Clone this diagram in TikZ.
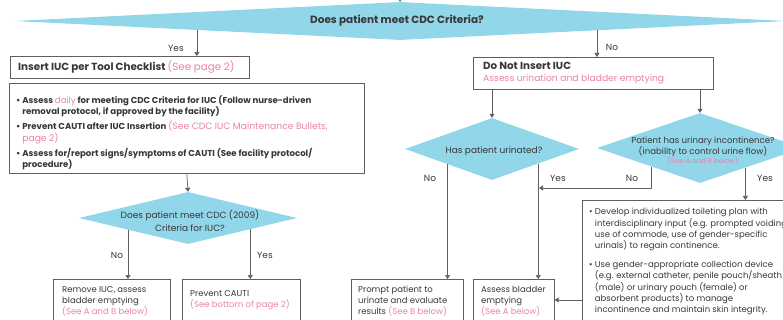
\documentclass[tikz,border=0pt]{standalone}
\usepackage{fontspec}
\setmainfont{Poppins}
\usetikzlibrary{arrows.meta,shapes.geometric}
\definecolor{cyanfill}{RGB}{146,214,234}
\definecolor{pinkc}{RGB}{234,128,172}
\definecolor{txtc}{RGB}{55,55,55}
\definecolor{linec}{RGB}{95,95,95}
\begin{document}
\begin{tikzpicture}[x=1pt,y=-1pt,
  box/.style={draw=linec, line width=0.7pt, rectangle, inner sep=0pt, anchor=north west},
  dia/.style={diamond, fill=cyanfill, draw=none, inner sep=0pt},
  arr/.style={draw=linec, line width=0.7pt, -{Triangle[width=5pt,length=4pt]}},
  lbl/.style={font=\fontsize{9}{10}\selectfont, text=txtc, inner sep=0pt},
  bt/.style={font=\bfseries\fontsize{8.6}{11.5}\selectfont, text=txtc, align=left, inner sep=0pt, anchor=north west},
  rt/.style={font=\fontsize{8.5}{11}\selectfont, text=txtc, align=left, inner sep=0pt, anchor=north west},
  ct/.style={font=\fontsize{9}{13}\selectfont, text=txtc, align=center, inner sep=0pt},
]
\useasboundingbox (0,0) rectangle (783,320);

% diamonds
\node[dia, minimum width=772pt, minimum height=38pt] (d1) at (400,21) {};
\node[font=\bfseries\fontsize{10.5}{12}\selectfont, text=txtc, inner sep=0pt] (d1t) at (397,21) {Does patient meet CDC Criteria?};

\node[dia, minimum width=218pt, minimum height=52pt] (d2) at (188,218) {};
\node[ct] (d2t) at (190,221) {Does patient meet CDC (2009)\\Criteria for IUC?};

\node[dia, minimum width=174pt, minimum height=62pt] (d3) at (492,149) {};
\node[ct] (d3t) at (494,151) {Has patient urinated?};

\node[dia, minimum width=206pt, minimum height=70pt] (d4) at (700,148) {};
\node[ct, font=\fontsize{8.6}{11}\selectfont] (d4t) at (703,151) {Patient has urinary incontinence?\\(inability to control urine flow)\\[-1.5pt]{\fontsize{7}{8}\selectfont\color{pinkc}(See A and B below)}};

% boxes
\node[box, minimum width=239pt, minimum height=22pt] (ins) at (10,56) {};
\node[font=\bfseries\fontsize{10.3}{12}\selectfont, text=txtc, inner sep=0pt, anchor=west] (inst) at ([xshift=8pt]ins.west) {Insert IUC per Tool Checklist {\mdseries\color{pinkc}(See page 2)}};

\node[box, minimum width=355pt, minimum height=90pt] (blt) at (9,83) {};
\node[bt] (bltt) at (16,95) {%
\textbullet\ Assess {\mdseries\color{pinkc}daily} for meeting CDC Criteria for IUC (Follow nurse-driven\\
\phantom{\textbullet\ }removal protocol, if approved by the facility)\\[3.5pt]
\textbullet\ Prevent CAUTI after IUC Insertion {\mdseries\fontsize{9.2}{11.5}\selectfont\color{pinkc}(See CDC IUC Maintenance Bullets,}\\
\phantom{\textbullet\ }{\mdseries\fontsize{9.2}{11.5}\selectfont\color{pinkc}page 2)}\\[3.5pt]
\textbullet\ Assess for/report signs/symptoms of CAUTI (See facility protocol/\\
\phantom{\textbullet\ }procedure)};

\node[box, minimum width=240pt, minimum height=32pt] (dni) at (473,57) {};
\node[inner sep=0pt, anchor=north west, align=left, text=txtc] (dnit) at (483,61.5) {{\bfseries\fontsize{10.3}{12}\selectfont Do Not Insert IUC}\\{\fontsize{9.2}{12}\selectfont\color{pinkc}Assess urination and bladder emptying}};

\node[box, minimum width=117pt, minimum height=60pt] (rem) at (53,279) {};
\node[rt] (remt) at (62,286) {Remove IUC, assess\\bladder emptying\\{\color{pinkc}(See A and B below)}};

\node[box, minimum width=118pt, minimum height=60pt] (prev) at (182,279) {};
\node[rt] (prevt) at (190,290) {Prevent CAUTI\\{\color{pinkc}(See bottom of page 2)}};

\node[box, minimum width=112pt, minimum height=60pt] (prm) at (351,279) {};
\node[rt] (prmt) at (358,286) {Prompt patient to\\urinate and evaluate\\results {\color{pinkc}(See B below)}};

\node[box, minimum width=81pt, minimum height=60pt] (asb) at (473,279) {};
\node[rt] (asbt) at (481,286) {Assess bladder\\emptying\\{\color{pinkc}(See A below)}};

\node[box, minimum width=230pt, minimum height=140pt] (rbx) at (582,200) {};
\node[rt, font=\fontsize{8.5}{11.4}\selectfont] (rbxt) at (589,208) {%
\textbullet\ Develop individualized toileting plan with\\
\phantom{\textbullet\ }interdisciplinary input (e.g. prompted voiding,\\
\phantom{\textbullet\ }use of commode, use of gender-specific\\
\phantom{\textbullet\ }urinals) to regain continence.\\[7pt]
\textbullet\ Use gender-appropriate collection device\\
\phantom{\textbullet\ }(e.g. external catheter, penile pouch/sheath\\
\phantom{\textbullet\ }(male) or urinary pouch (female) or\\
\phantom{\textbullet\ }absorbent products) to manage\\
\phantom{\textbullet\ }incontinence and maintain skin integrity.};

% connector points on diamond edges
\coordinate (topin) at (400,-8);
\path (d1.west) -- (d1.south) coordinate[pos=0.474] (d1yes);
\path (d1.south) -- (d1.east) coordinate[pos=0.51] (d1no);
\path (d2.west) -- (d2.south) coordinate[pos=0.45] (d2no);
\path (d2.south) -- (d2.east) coordinate[pos=0.57] (d2yes);
\path (d3.west) -- (d3.south) coordinate[pos=0.49] (d3no);
\path (d3.south) -- (d3.east) coordinate[pos=0.53] (d3yes);
\path (d4.west) -- (d4.south) coordinate[pos=0.53] (d4no);
\path (d4.south) -- (d4.east) coordinate[pos=0.44] (d4yes);
\coordinate (mrg) at (539,188);
\coordinate (ay) at (0,300);

% connectors
\draw[arr] (topin) -- (d1.north);
\draw[arr] (d1yes) -- (d1yes |- ins.north);
\draw[arr] (d1no) -- (d1no |- dni.north);
\draw[arr] (blt.south) -- (d2.north);
\draw[arr] (d2no) -- (d2no |- rem.north);
\draw[arr] (d2yes) -- (d2yes |- prev.north);
\draw[arr] (dni.south -| d3.north) -- (d3.north);
\draw[arr] (dni.south -| d4.north) -- (d4.north);
\draw[arr] (d3no) -- (d3no |- prm.north);
\draw[arr] (d3yes) -- (d3yes |- asb.north);
\draw[arr] (d4no) |- (mrg);
\draw[arr] (d4yes) -- (d4yes |- rbx.north);
\draw[arr] (rbx.west |- ay) -- (asb.east |- ay);

% labels
\node[lbl] (lyes1) at (176,48) {Yes};
\node[lbl] (lno1) at (612,47) {No};
\node[lbl] (lno2) at (117,255) {No};
\node[lbl] (lyes2) at (265,255) {Yes};
\node[lbl] (lno3) at (430,178) {No};
\node[lbl] (lyes3) at (558,178) {Yes};
\node[lbl] (lno4) at (632,178) {No};
\node[lbl] (lyes4) at (765,178) {Yes};
\end{tikzpicture}
\end{document}
